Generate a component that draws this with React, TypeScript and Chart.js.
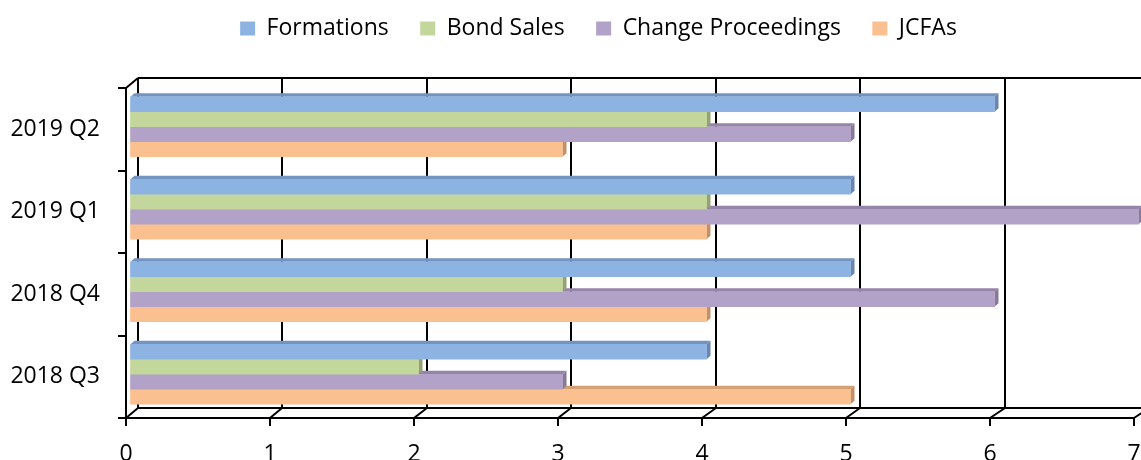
import React, { useEffect, useRef } from 'react';
import { Chart, registerables } from 'chart.js';

Chart.register(...registerables);

// ---- data ----
const categories = ['2019 Q2', '2019 Q1', '2018 Q4', '2018 Q3'];
const seriesNames = ['Formations', 'Bond Sales', 'Change Proceedings', 'JCFAs'];
const formations = [6, 5, 5, 4];
const bondSales = [4, 4, 3, 2];
const changeProceedings = [5, 7, 6, 3];
const jcfas = [3, 4, 4, 5];
const xTickValues = [0, 1, 2, 3, 4, 5, 6, 7];

// ---- styles ----
const FONT = "'Open Sans', 'Liberation Sans', sans-serif";
const FONT_SIZE = 23;
const frontColors = ['#8DB3E2', '#C3D69B', '#B3A2C7', '#FAC090'];
const topColors = ['#7394C0', '#A2B57D', '#9585A9', '#D5A074'];
const sideColors = ['#6886B0', '#93A470', '#86799A', '#C39167'];

const WALL_DX = 12;
const WALL_PERSP = 0.45;
const WALL_DY = 10;
const BAR_SHIFT_X = 4.5;
const BAR_SHIFT_Y = -2.5;
const BAR_DX = 4;
const BAR_DY = 3.5;
const LEGEND_SHIFT = 63;

const frame3d = {
  id: 'frame3d',
  afterLayout(chart: any) {
    const lg = chart.legend;
    if (lg) {
      lg.left = LEGEND_SHIFT;
    }
  },
  beforeDatasetsDraw(chart: any) {
    const { ctx, chartArea } = chart;
    const xs = chart.scales.x;
    const ys = chart.scales.y;
    const px = (v: number) => Math.round(xs.getPixelForValue(v));
    const backX = (v: number) => Math.round(xs.getPixelForValue(v) + WALL_DX + WALL_PERSP * v);
    const top = Math.round(chartArea.top);
    const bottom = Math.round(chartArea.bottom);
    const topB = top - WALL_DY;
    const botB = bottom - WALL_DY;
    const W = chart.width;
    const first = xTickValues[0];
    const last = xTickValues[xTickValues.length - 1];

    ctx.save();
    ctx.strokeStyle = '#000';
    ctx.lineWidth = 2;
    ctx.beginPath();
    // back wall verticals
    xTickValues.forEach((v) => {
      ctx.moveTo(backX(v), topB);
      ctx.lineTo(backX(v), botB);
    });
    // top back edge and back floor edge
    ctx.moveTo(backX(first), topB);
    ctx.lineTo(W, topB);
    ctx.moveTo(backX(first), botB);
    ctx.lineTo(W, botB);
    // floor diagonals
    xTickValues.forEach((v) => {
      ctx.moveTo(px(v), bottom);
      ctx.lineTo(backX(v), botB);
    });
    // front value axis
    ctx.moveTo(px(first) - 1, bottom);
    ctx.lineTo(px(last), bottom);
    // front category axis + top-left diagonal
    ctx.moveTo(px(first), top);
    ctx.lineTo(px(first), bottom);
    ctx.moveTo(px(first), top);
    ctx.lineTo(backX(first), topB);
    // value ticks
    xTickValues.forEach((v) => {
      ctx.moveTo(px(v), bottom);
      ctx.lineTo(px(v), bottom + 8);
    });
    // category ticks at band boundaries
    const band = ys.getPixelForValue(1) - ys.getPixelForValue(0);
    for (let i = 0; i <= categories.length; i++) {
      const yy = Math.round(ys.getPixelForValue(0) - band / 2 + i * band);
      ctx.moveTo(px(first) - 8, yy);
      ctx.lineTo(px(first), yy);
    }
    ctx.stroke();
    ctx.restore();

    // 3D faces of bars, then leave translation for dataset drawing
    ctx.save();
    ctx.translate(BAR_SHIFT_X, BAR_SHIFT_Y);
    for (let d = chart.data.datasets.length - 1; d >= 0; d--) {
      const meta = chart.getDatasetMeta(d);
      meta.data.forEach((bar: any) => {
        const p = bar.getProps(['x', 'y', 'base', 'height'], true);
        const left = Math.min(p.base, p.x);
        const right = Math.max(p.base, p.x);
        const t = p.y - p.height / 2;
        const b = p.y + p.height / 2;
        ctx.fillStyle = topColors[d];
        ctx.beginPath();
        ctx.moveTo(left, t);
        ctx.lineTo(right, t);
        ctx.lineTo(right + BAR_DX, t - BAR_DY);
        ctx.lineTo(left + BAR_DX, t - BAR_DY);
        ctx.closePath();
        ctx.fill();
        ctx.fillStyle = sideColors[d];
        ctx.beginPath();
        ctx.moveTo(right, t);
        ctx.lineTo(right + BAR_DX, t - BAR_DY);
        ctx.lineTo(right + BAR_DX, b - BAR_DY);
        ctx.lineTo(right, b);
        ctx.closePath();
        ctx.fill();
      });
    }
  },
  afterDatasetsDraw(chart: any) {
    chart.ctx.restore();
  },
};

export default function App() {
  const ref = useRef<HTMLCanvasElement>(null);

  useEffect(() => {
    if (!ref.current) return;
    const values = [formations, bondSales, changeProceedings, jcfas];
    const chart = new Chart(ref.current, {
      type: 'bar',
      data: {
        labels: categories,
        datasets: seriesNames.map((name, i) => ({
          label: name,
          data: values[i],
          backgroundColor: frontColors[i],
          borderWidth: 0,
          barThickness: 15,
          clip: false as any,
        })),
      },
      options: {
        indexAxis: 'y',
        animation: false,
        responsive: false,
        events: [],
        layout: { padding: { top: -14.5, left: 0, right: 7, bottom: 0 } },
        scales: {
          x: {
            type: 'linear',
            position: 'bottom',
            min: 0,
            max: 7,
            ticks: { stepSize: 1, padding: 0, color: '#000', font: { family: FONT, size: FONT_SIZE } },
            grid: { display: false, drawTicks: true, tickLength: 23 },
            border: { display: false },
            afterFit: (s: any) => {
              s.height = 42;
            },
          },
          y: {
            type: 'category',
            position: 'left',
            ticks: { padding: 0, color: '#000', font: { family: FONT, size: FONT_SIZE } },
            grid: { display: false, drawTicks: true, tickLength: 26 },
            border: { display: false },
            afterFit: (s: any) => {
              s.width = 126;
            },
          },
        },
        plugins: {
          legend: {
            display: true,
            position: 'top',
            labels: {
              boxWidth: 15,
              boxHeight: 14,
              padding: 31.5,
              color: '#000',
              font: { family: FONT, size: FONT_SIZE },
            },
          },
          title: {
            display: true,
            text: '',
            weight: 500,
            font: { size: 10 },
            padding: { top: 0, bottom: 26 },
          } as any,
          tooltip: { enabled: false },
        },
      },
      plugins: [frame3d],
    });
    return () => chart.destroy();
  }, []);

  return (
    <div style={{ position: 'fixed', left: 0, top: 0, width: 1141, height: 460, background: '#fff' }}>
      <canvas ref={ref} width={1141} height={460} style={{ display: 'block' }} />
    </div>
  );
}
